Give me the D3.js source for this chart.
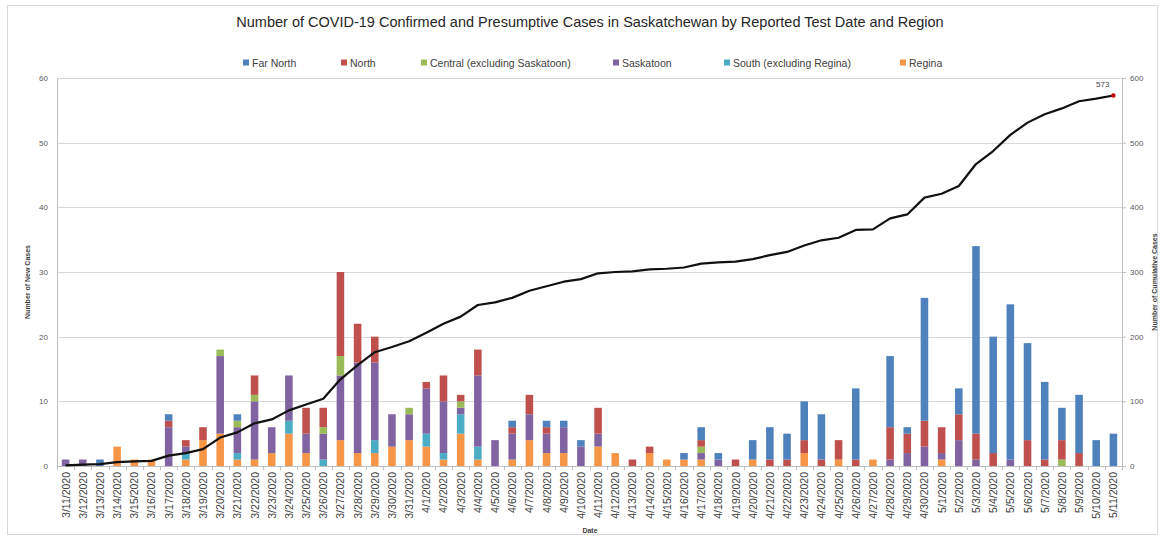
<!DOCTYPE html>
<html>
<head>
<meta charset="utf-8">
<script src="https://cdn.jsdelivr.net/npm/d3@7"></script>
<style>
  body { margin: 0; background: #fff; }
  text { font-family: "Liberation Sans", Arial, sans-serif; }
</style>
</head>
<body>
<div class="chart"></div>
<script>
var w = 1164,
  h = 539;

// dates (reported test date)
var dates = ['3/11/2020', '3/12/2020', '3/13/2020', '3/14/2020', '3/15/2020', '3/16/2020', '3/17/2020',
  '3/18/2020', '3/19/2020', '3/20/2020', '3/21/2020', '3/22/2020', '3/23/2020', '3/24/2020', '3/25/2020',
  '3/26/2020', '3/27/2020', '3/28/2020', '3/29/2020', '3/30/2020', '3/31/2020', '4/1/2020', '4/2/2020',
  '4/3/2020', '4/4/2020', '4/5/2020', '4/6/2020', '4/7/2020', '4/8/2020', '4/9/2020', '4/10/2020',
  '4/11/2020', '4/12/2020', '4/13/2020', '4/14/2020', '4/15/2020', '4/16/2020', '4/17/2020', '4/18/2020',
  '4/19/2020', '4/20/2020', '4/21/2020', '4/22/2020', '4/23/2020', '4/24/2020', '4/25/2020', '4/26/2020',
  '4/27/2020', '4/28/2020', '4/29/2020', '4/30/2020', '5/1/2020', '5/2/2020', '5/3/2020', '5/4/2020',
  '5/5/2020', '5/6/2020', '5/7/2020', '5/8/2020', '5/9/2020', '5/10/2020', '5/11/2020'];

// new cases per region, one value per date
var farNorth = [0, 0, 1, 0, 0, 0, 1, 0, 0, 0, 1, 0, 0, 0, 0, 0, 0, 0, 0, 0, 0, 0, 0, 0, 0, 0, 1, 0, 1, 1, 1,
  0, 0, 0, 0, 0, 1, 2, 1, 0, 3, 5, 4, 6, 7, 0, 11, 0, 11, 1, 19, 0, 4, 29, 18, 24, 15, 12, 5, 9, 4, 5];
var north = [0, 0, 0, 0, 0, 0, 1, 1, 2, 0, 0, 3, 0, 0, 4, 3, 13, 6, 4, 0, 0, 1, 4, 1, 4, 0, 1, 3, 1, 0, 0,
  4, 0, 1, 1, 0, 0, 1, 0, 1, 0, 1, 1, 2, 1, 3, 1, 0, 5, 3, 4, 4, 4, 4, 2, 0, 4, 1, 3, 2, 0, 0];
var central = [0, 0, 0, 0, 0, 0, 0, 0, 0, 1, 1, 1, 0, 0, 0, 1, 3, 0, 0, 0, 1, 0, 0, 1, 0, 0, 0, 0, 0, 0, 0,
  0, 0, 0, 0, 0, 0, 1, 0, 0, 0, 0, 0, 0, 0, 0, 0, 0, 0, 0, 0, 0, 0, 0, 0, 0, 0, 0, 1, 0, 0, 0];
var saskatoon = [1, 1, 0, 0, 0, 0, 6, 1, 0, 12, 4, 9, 4, 7, 3, 4, 10, 14, 12, 5, 4, 7, 8, 1, 11, 4, 4, 4, 3, 4, 3,
  2, 0, 0, 0, 0, 0, 1, 1, 0, 0, 0, 0, 0, 0, 0, 0, 0, 1, 2, 3, 1, 4, 1, 0, 1, 0, 0, 0, 0, 0, 0];
var south = [0, 0, 0, 0, 0, 0, 0, 1, 0, 0, 1, 0, 0, 2, 0, 1, 0, 0, 2, 0, 0, 2, 1, 3, 2, 0, 0, 0, 0, 0, 0,
  0, 0, 0, 0, 0, 0, 0, 0, 0, 0, 0, 0, 0, 0, 0, 0, 0, 0, 0, 0, 0, 0, 0, 0, 0, 0, 0, 0, 0, 0, 0];
var regina = [0, 0, 0, 3, 1, 1, 0, 1, 4, 5, 1, 1, 2, 5, 2, 0, 4, 2, 2, 3, 4, 3, 1, 5, 1, 0, 1, 4, 2, 2, 0,
  3, 2, 0, 2, 1, 1, 1, 0, 0, 1, 0, 0, 2, 0, 1, 0, 1, 0, 0, 0, 1, 0, 0, 0, 0, 0, 0, 0, 0, 0, 0];

// cumulative cases (right axis)
var cumulative = [1, 2, 3, 6, 7, 8, 16, 20, 26, 44, 52, 66, 72, 86, 95, 104, 134, 156, 176, 184, 193, 206,
  220, 231, 249, 253, 260, 271, 278, 285, 289, 298, 300, 301, 304, 305, 307, 313, 315, 316, 320, 326, 331,
  341, 349, 353, 365, 366, 383, 389, 415, 421, 433, 467, 487, 512, 531, 544, 553, 564, 568, 573];

var leftTicks = [0, 10, 20, 30, 40, 50, 60],
  rightTicks = [0, 100, 200, 300, 400, 500, 600];

var regions = ['Far North', 'North', 'Central (excluding Saskatoon)', 'Saskatoon', 'South (excluding Regina)', 'Regina'],
  regionValues = [farNorth, north, central, saskatoon, south, regina],
  colors = ['#4f81bd', '#c0504d', '#9bbb59', '#8064a2', '#4bacc6', '#f79646'];

// build rows for the stack
var rows = dates.map(function (d, i) {
  var row = { date: d };
  regions.forEach(function (r, j) { row[r] = regionValues[j][i]; });
  return row;
});

// stack bottom-up: Regina first, Far North on top
var stack = d3.stack().keys(regions.slice().reverse());
var series = stack(rows);

var margin = { left: 57, right: 42, top: 78, bottom: 73 };

var x = d3.scaleBand()
  .domain(dates)
  .range([margin.left, w - margin.right])
  .paddingInner(0.56)
  .paddingOuter(0.28);

var y = d3.scaleLinear().domain([0, 60]).range([h - margin.bottom, margin.top]);
var y2 = d3.scaleLinear().domain([0, 600]).range([h - margin.bottom, margin.top]);

var color = d3.scaleOrdinal().domain(regions).range(colors);

var svg = d3.select('.chart')
  .append('svg')
  .attr('width', w)
  .attr('height', h);

// chart border
svg.append('rect')
  .attr('x', 7.5).attr('y', 5.5)
  .attr('width', w - 14).attr('height', h - 10)
  .attr('fill', 'none')
  .attr('stroke', '#d9d9d9');

// title
svg.append('text')
  .attr('x', 590)
  .attr('y', 27)
  .attr('text-anchor', 'middle')
  .attr('font-size', '14.5px')
  .attr('fill', '#262626')
  .text('Number of COVID-19 Confirmed and Presumptive Cases in Saskatchewan by Reported Test Date and Region');

// legend
var legendX = [243, 341, 421, 613, 724, 900];
var legend = svg.selectAll('g.legend')
  .data(regions)
  .enter()
  .append('g')
  .attr('class', 'legend')
  .attr('transform', function (d, i) { return 'translate(' + legendX[i] + ',63)'; });
legend.append('rect')
  .attr('x', 0).attr('y', -3.5)
  .attr('width', 6).attr('height', 6)
  .attr('fill', function (d) { return color(d); });
legend.append('text')
  .attr('x', 9)
  .attr('y', 3.5)
  .attr('font-size', '10.5px')
  .attr('fill', '#404040')
  .text(function (d) { return d; });

// gridlines
svg.append('g')
  .selectAll('line')
  .data(leftTicks.slice(1))
  .enter()
  .append('line')
  .attr('x1', margin.left).attr('x2', w - margin.right)
  .attr('y1', function (d) { return Math.round(y(d)) + 0.5; })
  .attr('y2', function (d) { return Math.round(y(d)) + 0.5; })
  .attr('stroke', '#d9d9d9');

// left axis
var leftAxis = svg.append('g')
  .attr('transform', 'translate(' + margin.left + ',0)')
  .call(d3.axisLeft(y).tickValues(leftTicks).tickSize(0).tickPadding(9));
leftAxis.select('.domain').attr('stroke', '#bfbfbf');
leftAxis.selectAll('text').attr('font-size', '8px').attr('fill', '#595959');

// right axis
var rightAxis = svg.append('g')
  .attr('transform', 'translate(' + (w - margin.right) + ',0)')
  .call(d3.axisRight(y2).tickValues(rightTicks).tickSize(4).tickPadding(4));
rightAxis.select('.domain').attr('stroke', '#bfbfbf');
rightAxis.selectAll('line').attr('stroke', '#bfbfbf');
rightAxis.selectAll('text').attr('font-size', '8px').attr('fill', '#595959');

// bottom axis with ticks between categories
var baseY = h - margin.bottom;
svg.append('line')
  .attr('x1', margin.left).attr('x2', w - margin.right)
  .attr('y1', baseY + 0.5).attr('y2', baseY + 0.5)
  .attr('stroke', '#bfbfbf');
var step = x.step();
svg.append('g')
  .selectAll('line')
  .data(d3.range(dates.length + 1))
  .enter()
  .append('line')
  .attr('x1', function (i) { return Math.round(margin.left + i * step) + 0.5; })
  .attr('x2', function (i) { return Math.round(margin.left + i * step) + 0.5; })
  .attr('y1', baseY).attr('y2', baseY + 4)
  .attr('stroke', '#bfbfbf');
svg.append('g')
  .selectAll('text')
  .data(dates)
  .enter()
  .append('text')
  .attr('transform', function (d) {
    return 'translate(' + (x(d) + x.bandwidth() / 2 + 4) + ',' + (baseY + 6) + ') rotate(-90)';
  })
  .attr('text-anchor', 'end')
  .attr('font-size', '10.5px')
  .attr('fill', '#404040')
  .text(function (d) { return d; });

// axis titles
svg.append('text')
  .attr('x', 590).attr('y', 533)
  .attr('text-anchor', 'middle')
  .attr('font-size', '7px').attr('font-weight', 'bold')
  .attr('fill', '#404040')
  .text('Date');
svg.append('text')
  .attr('transform', 'translate(30,' + (y(30) + 10) + ') rotate(-90)')
  .attr('text-anchor', 'middle')
  .attr('font-size', '7px').attr('font-weight', 'bold')
  .attr('fill', '#404040')
  .text('Number of New Cases');
svg.append('text')
  .attr('transform', 'translate(1157,' + (y(30) + 10) + ') rotate(-90)')
  .attr('text-anchor', 'middle')
  .attr('font-size', '7px').attr('font-weight', 'bold')
  .attr('fill', '#404040')
  .text('Number of Cumulative Cases');

// stacked bars
svg.append('g')
  .selectAll('g')
  .data(series)
  .enter()
  .append('g')
  .attr('fill', function (d) { return color(d.key); })
  .selectAll('rect')
  .data(function (d) { return d; })
  .enter()
  .append('rect')
  .attr('x', function (d) { return x(d.data.date); })
  .attr('width', x.bandwidth())
  .attr('y', function (d) { return y(d[1]); })
  .attr('height', function (d) { return y(d[0]) - y(d[1]); });

// cumulative line
var line = d3.line()
  .x(function (d, i) { return x(dates[i]) + x.bandwidth() / 2; })
  .y(function (d) { return y2(d); });
svg.append('path')
  .datum(cumulative)
  .attr('d', line)
  .attr('fill', 'none')
  .attr('stroke', '#111')
  .attr('stroke-width', 2.2)
  .attr('stroke-linejoin', 'round');

// last point marker + label
var lastI = cumulative.length - 1;
var lx = x(dates[lastI]) + x.bandwidth() / 2,
  ly = y2(cumulative[lastI]);
svg.append('circle')
  .attr('cx', lx).attr('cy', ly).attr('r', 2.2)
  .attr('fill', '#c00000');
svg.append('text')
  .attr('x', lx - 4).attr('y', ly - 8)
  .attr('text-anchor', 'end')
  .attr('font-size', '8px')
  .attr('fill', '#404040')
  .text(cumulative[lastI]);
</script>
</body>
</html>
